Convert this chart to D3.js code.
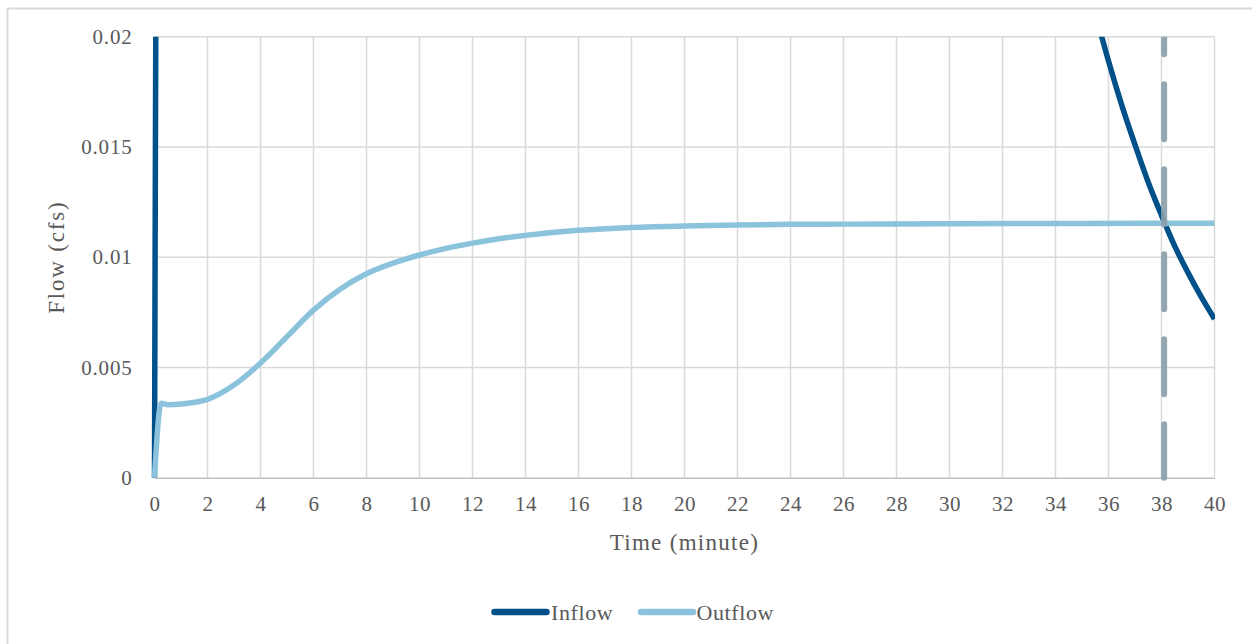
<!DOCTYPE html>
<html>
<head>
<meta charset="utf-8">
<script src="https://cdn.jsdelivr.net/npm/d3@7"></script>
<style>
  html, body { margin: 0; padding: 0; background: #ffffff; }
  svg { display: block; }
  text { font-family: "Liberation Serif", "Times New Roman", serif; fill: #595959; }
</style>
</head>
<body>
<svg id="chart" width="1252" height="644"></svg>
<script>
// Time axis ticks (minutes) and flow ticks (cfs)
const timeTicks = d3.range(0, 41, 2);
const flowTicks = [0, 0.005, 0.01, 0.015, 0.02];
const flowTickLabels = ["0", "0.005", "0.01", "0.015", "0.02"];

// Inflow hydrograph: time (min) and flow (cfs)
const inflowTime = [0, 0.1, 35, 35.5, 36, 36.5, 37, 37.5, 38, 38.5, 39, 39.5, 40];
const inflowFlow = [0, 0.03, 0.0235, 0.0211, 0.0189, 0.0169, 0.0151, 0.0134, 0.0119, 0.0105, 0.0093, 0.0082, 0.0072];

// Outflow hydrograph: time (min) and flow (cfs)
const outflowTime = [0, 0.25, 0.5, 1, 2, 3, 4, 5, 6, 7, 8, 9, 10, 11, 12, 13, 14, 16, 18, 20, 22, 24, 26, 30, 35, 40];
const outflowFlow = [0, 0.00338, 0.00331, 0.00334, 0.00355, 0.0042, 0.0052, 0.0064, 0.0076, 0.00855, 0.00925, 0.00973, 0.0101, 0.0104, 0.01064, 0.01084, 0.01099, 0.01122, 0.01135, 0.01142, 0.01146, 0.01149, 0.0115, 0.01152, 0.01153, 0.01154];

// Time at which inflow falls to outflow
const crossTime = [38.1];

const seriesNames = ["Inflow", "Outflow"];
const seriesColors = ["#00508a", "#8bc3dc"];

const svg = d3.select("#chart");

const x = d3.scaleLinear().domain([0, 40]).range([154.5, 1214.5]);
const y = d3.scaleLinear().domain([0, 0.02]).range([477.7, 36.7]);

// outer chart frame
svg.append("path")
  .attr("d", "M7.5,650 L7.5,8.5 L1260,8.5")
  .attr("fill", "none")
  .attr("stroke", "#d9d9d9")
  .attr("stroke-width", 2);

// gridlines
const grid = svg.append("g");
grid.selectAll("line.v").data(timeTicks).join("line")
  .attr("class", "v")
  .attr("x1", d => x(d)).attr("x2", d => x(d))
  .attr("y1", y(0)).attr("y2", y(0.02))
  .attr("stroke", "#d9d9d9").attr("stroke-width", 1.5);
grid.selectAll("line.h").data(flowTicks.slice(1)).join("line")
  .attr("class", "h")
  .attr("x1", x(0)).attr("x2", x(40))
  .attr("y1", d => y(d)).attr("y2", d => y(d))
  .attr("stroke", "#d9d9d9").attr("stroke-width", 1.5);

// x axis
const xAxis = svg.append("g")
  .attr("transform", `translate(0,${y(0)})`)
  .call(d3.axisBottom(x).tickValues(timeTicks).tickSize(0).tickPadding(18).tickFormat(d3.format("d")));
xAxis.select(".domain").attr("stroke", "#bfbfbf").attr("stroke-width", 1.5);
xAxis.selectAll("text")
  .attr("font-size", 21).attr("letter-spacing", 0.6)
  .attr("fill", "#595959")
  .attr("font-family", "Liberation Serif, serif");

// y axis
const yAxis = svg.append("g")
  .attr("transform", `translate(${x(0)},0)`)
  .call(d3.axisLeft(y).tickValues(flowTicks).tickSize(0).tickPadding(22)
    .tickFormat((d, i) => flowTickLabels[i]));
yAxis.select(".domain").remove();
yAxis.selectAll("text")
  .attr("font-size", 21).attr("letter-spacing", 0.8)
  .attr("fill", "#595959")
  .attr("font-family", "Liberation Serif, serif");

// axis titles
svg.append("text")
  .attr("x", (x(0) + x(40)) / 2).attr("y", 549.5)
  .attr("text-anchor", "middle")
  .attr("font-size", 23).attr("letter-spacing", 1.3)
  .text("Time (minute)");
svg.append("text")
  .attr("transform", `translate(64,${(y(0) + y(0.02)) / 2}) rotate(-90)`)
  .attr("text-anchor", "middle")
  .attr("font-size", 23).attr("letter-spacing", 1.8)
  .text("Flow (cfs)");

// clip lines to plotting area
svg.append("clipPath").attr("id", "plotClip")
  .append("rect")
  .attr("x", x(0) - 10).attr("y", y(0.02))
  .attr("width", x(40) - x(0) + 10.5).attr("height", y(0) - y(0.02) + 10);

const line = d3.line().x(d => x(d[0])).y(d => y(d[1])).curve(d3.curveMonotoneX);
const inflow = inflowTime.map((t, i) => [t, inflowFlow[i]]);
const outflow = outflowTime.map((t, i) => [t, outflowFlow[i]]);

const plot = svg.append("g").attr("clip-path", "url(#plotClip)");
plot.append("path").datum(inflow)
  .attr("d", line).attr("fill", "none")
  .attr("stroke", seriesColors[0]).attr("stroke-width", 5.5)
  .attr("stroke-linejoin", "round");
plot.append("path").datum(outflow)
  .attr("d", line).attr("fill", "none")
  .attr("stroke", seriesColors[1]).attr("stroke-width", 5.5)
  .attr("stroke-linejoin", "round");

// vertical dashed marker at the crossing time
plot.selectAll("line.cross").data(crossTime).join("line")
  .attr("class", "cross")
  .attr("x1", d => x(d)).attr("x2", d => x(d))
  .attr("y1", y(0)).attr("y2", y(0.02))
  .attr("stroke", "#8a9fa9").attr("stroke-opacity", 0.92)
  .attr("stroke-width", 6)
  .attr("stroke-linecap", "round")
  .attr("stroke-dasharray", "55,30")
  .attr("stroke-dashoffset", 1.5);

// legend
const legendItems = [
  { name: seriesNames[0], color: seriesColors[0], x0: 494.5, x1: 546.5, tx: 551 },
  { name: seriesNames[1], color: seriesColors[1], x0: 641, x1: 693, tx: 696.5 }
];
const legend = svg.append("g");
legend.selectAll("line").data(legendItems).join("line")
  .attr("x1", d => d.x0).attr("x2", d => d.x1)
  .attr("y1", 612).attr("y2", 612)
  .attr("stroke", d => d.color).attr("stroke-width", 6.5)
  .attr("stroke-linecap", "round");
legend.selectAll("text").data(legendItems).join("text")
  .attr("x", d => d.tx).attr("y", 620)
  .attr("font-size", 22).attr("letter-spacing", 0.6)
  .text(d => d.name);
</script>
</body>
</html>
